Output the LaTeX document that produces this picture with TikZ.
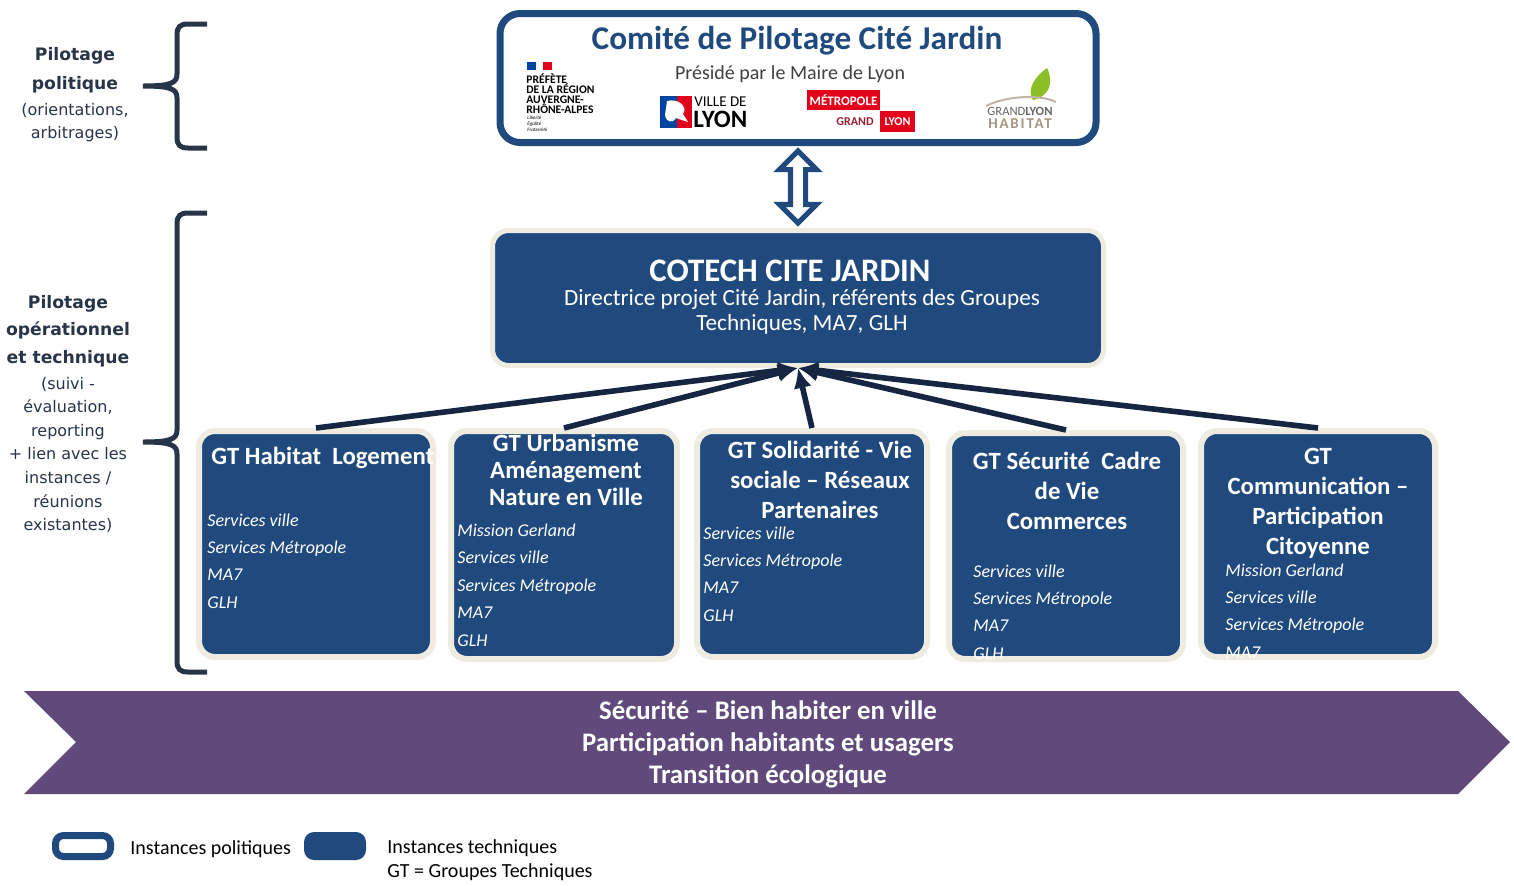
\documentclass[tikz,border=0pt]{standalone}
\usepackage{fontspec}
\setmainfont{Carlito}
\newfontfamily\verdana{DejaVu Sans}
\usepackage{tikz}
\usetikzlibrary{arrows.meta}
\usetikzlibrary{shapes.arrows}
\usetikzlibrary{calc}

\definecolor{cjblue}{RGB}{32,74,126}
\definecolor{cjbeige}{RGB}{238,236,225}
\definecolor{cjnavy}{RGB}{22,38,66}
\definecolor{cjpurple}{RGB}{96,74,123}
\definecolor{cjslate}{RGB}{40,52,72}
\definecolor{cjgrey}{RGB}{64,64,64}
\definecolor{cjred}{RGB}{226,0,26}
\definecolor{cjdarkred}{RGB}{150,30,50}
\definecolor{cjflag}{RGB}{0,70,160}
\definecolor{cjgreen}{RGB}{140,190,40}
\definecolor{cjtaupe}{RGB}{165,150,130}

\begin{document}
\begin{tikzpicture}[x=0.5pt,y=-0.5pt,
	gtbox/.style={draw=cjbeige,line width=3pt,fill=cjblue,rounded corners=8pt,minimum width=117pt,minimum height=113pt},
	gttitle/.style={text=white,font=\bfseries\fontsize{12.4}{15}\selectfont,align=center,inner sep=0pt},
	gtitems/.style={text=white,font=\itshape\fontsize{9}{13.7}\selectfont,align=left,anchor=west,inner sep=0pt},
	uplink/.style={draw=cjnavy,line width=2.8pt,-{Latex[length=10pt,width=9pt]}},
	sidetext/.style={text=cjslate,font=\verdana\fontsize{8}{11.8}\selectfont,align=center,inner sep=0pt},
	brace/.style={draw=cjslate,line width=2.5pt},
	legtext/.style={font=\fontsize{10}{12}\selectfont,align=left,anchor=west,inner sep=0pt}]
\useasboundingbox (0,0) rectangle (1514,885);

% comite de pilotage
\node[draw=cjblue,line width=3.5pt,fill=white,rounded corners=10pt,minimum width=298pt,minimum height=64.5pt] (copil) at (798,78) {};
\node[text=cjblue,font=\bfseries\fontsize{16.6}{19}\selectfont,inner sep=0pt] (copiltitle) at (797,41) {Comité de Pilotage Cité Jardin};
\node[text=cjgrey,font=\fontsize{10}{12}\selectfont,inner sep=0pt] (copilsub) at (790,74) {Présidé par le Maire de Lyon};

% logos
\fill[cjflag] (527,62) rectangle (536,70);
\fill[cjred] (543,62) rectangle (552,70);
\node[anchor=north west,font=\bfseries\fontsize{5.8}{5}\selectfont,align=left,inner sep=0pt] (prefet) at (526,73) {PRÉFÈTE\\DE LA RÉGION\\AUVERGNE-\\RHÔNE-ALPES};
\node[anchor=north west,font=\itshape\fontsize{2.5}{3}\selectfont,align=left,inner sep=0pt] (devise) at (527,116) {Liberté\\Égalité\\Fraternité};

\fill[cjflag] (660,96) rectangle (677,128);
\fill[cjred] (677,96) rectangle (692,128);
\fill[white] (667,101) .. controls (679,98) and (688,107) .. (683,114) -- (688,122) -- (676,118) .. controls (672,124) and (666,122) .. (665,115) -- cycle;
\node[anchor=west,font=\fontsize{7.5}{8}\selectfont,inner sep=0pt] (ville) at (694,102) {VILLE DE};
\node[anchor=west,font=\bfseries\fontsize{12.5}{12}\selectfont,inner sep=0pt] (lyon) at (693,119) {LYON};

\node[fill=cjred,text=white,font=\bfseries\fontsize{6.5}{7}\selectfont,minimum width=36.5pt,minimum height=10pt,inner sep=0pt] (metro) at (843.5,100) {MÉTROPOLE};
\node[text=cjdarkred,font=\bfseries\fontsize{6}{7}\selectfont,anchor=east,inner sep=0pt] (grand) at (874,121.5) {GRAND};
\node[fill=cjred,text=white,font=\bfseries\fontsize{6}{7}\selectfont,minimum width=17.5pt,minimum height=10.5pt,inner sep=0pt] (metrolyon) at (897.5,121.5) {LYON};

\fill[cjgreen] (1033,100) .. controls (1026,88) and (1036,76) .. (1047,68) .. controls (1054,82) and (1050,96) .. (1033,100);
\draw[cjtaupe!70,line width=1pt] (986,106) .. controls (1005,96) and (1040,94) .. (1056,102);
\node[text=cjgrey!80,font=\fontsize{6.3}{7}\selectfont,inner sep=0pt] (glh) at (1020,111) {GRAND\textbf{LYON}};
\node[text=cjtaupe,font=\bfseries\fontsize{7.5}{8}\selectfont\addfontfeatures{LetterSpace=12},inner sep=0pt] (habitat) at (1020,124) {HABITAT};

% cotech
\node[draw=cjbeige,line width=2.5pt,fill=cjblue,rounded corners=8pt,minimum width=305.5pt,minimum height=67.5pt] (cotech) at (798,298) {};
\node[text=white,font=\bfseries\fontsize{16.4}{17}\selectfont,inner sep=0pt] (cotechtitle) at (790,271) {COTECH CITE JARDIN};
\node[text=white,font=\fontsize{11.6}{12.4}\selectfont,align=center,inner sep=0pt] (cotechsub) at (802,312) {Directrice projet Cité Jardin, référents des Groupes\\Techniques, MA7, GLH};

% lien copil - cotech
\node[double arrow,rotate=90,draw=cjblue,line width=2.6pt,fill=white,inner sep=2.5pt,minimum height=36pt,minimum width=17pt,double arrow head extend=5.5pt] (link) at ($(copil.south)!0.5!(cotech.north)$) {};

% groupes techniques
\node[gtbox] (gt1) at (316,544) {};
\node[gtbox,minimum width=113pt,minimum height=114pt] (gt2) at (564,545) {};
\node[gtbox,minimum width=115pt] (gt3) at (812,544) {};
\node[gtbox] (gt4) at (1066,546) {};
\node[gtbox] (gt5) at (1318,544) {};

\node[gttitle,anchor=west] (gt1title) at (211,458) {GT Habitat\ \ Logement};
\node[gtitems] (gt1items) at (207,561) {Services ville\\Services Métropole\\MA7\\GLH};

\node[gttitle,font=\bfseries\fontsize{12.4}{13.6}\selectfont] (gt2title) at (566,470) {GT Urbanisme\\Aménagement\\Nature en Ville};
\node[gtitems] (gt2items) at (457,585) {Mission Gerland\\Services ville\\Services Métropole\\MA7\\GLH};

\node[gttitle] (gt3title) at (820,480) {GT Solidarité - Vie\\sociale -- Réseaux\\Partenaires};
\node[gtitems] (gt3items) at (703,574) {Services ville\\Services Métropole\\MA7\\GLH};

\node[gttitle] (gt4title) at (1067,491) {GT Sécurité\ \ Cadre\\de Vie\\Commerces};
\node[gtitems] (gt4items) at (973,612) {Services ville\\Services Métropole\\MA7\\GLH};

\node[gttitle] (gt5title) at (1318,503) {GT\\Communication --\\Participation\\Citoyenne};
\node[gtitems] (gt5items) at (1225,611) {Mission Gerland\\Services ville\\Services Métropole\\MA7};

\draw[uplink] (gt1.north) -- (cotech.south);
\draw[uplink] (gt2.north) -- (cotech.south);
\draw[uplink] (gt3.north) -- (cotech.south);
\draw[uplink] (gt4.north) -- (cotech.south);
\draw[uplink] (gt5.north) -- (cotech.south);

% bandeau transversal
\fill[cjpurple] (24,691) -- (1458,691) -- (1510,742) -- (1458,794) -- (24,794) -- (76,742) -- cycle;
\node[text=white,font=\bfseries\fontsize{13.4}{16}\selectfont,align=center,inner sep=0pt] (band) at (768,744) {Sécurité -- Bien habiter en ville\\Participation habitants et usagers\\Transition écologique};

% accolades
\draw[brace] (207,24) -- (188,24) .. controls (180,24) and (177,27) .. (177,35) -- (177,74) .. controls (177,83) and (171,86) .. (143,86) .. controls (171,86) and (177,89) .. (177,98) -- (177,137) .. controls (177,145) and (180,148) .. (188,148) -- (207,148);
\draw[brace] (207,213) -- (188,213) .. controls (180,213) and (177,216) .. (177,224) -- (177,430) .. controls (177,439) and (171,442) .. (143,442) .. controls (171,442) and (177,445) .. (177,454) -- (177,661) .. controls (177,669) and (180,672) .. (188,672) -- (207,672);

\node[sidetext] (polit) at (75,95) {\textbf{\fontsize{8.6}{10}\selectfont Pilotage}\\[2.5pt]\textbf{\fontsize{8.6}{10}\selectfont politique}\\[1pt](orientations,\\arbitrages)};
\node[sidetext] (operat) at (68,414) {\textbf{\fontsize{8.6}{10}\selectfont Pilotage}\\[2pt]\textbf{\fontsize{8.6}{10}\selectfont opérationnel}\\[2pt]\textbf{\fontsize{8.6}{10}\selectfont et technique}\\[1pt](suivi -\\évaluation,\\reporting\\+ lien avec les\\instances /\\réunions\\existantes)};

% legende
\node[draw=cjblue,line width=3.5pt,fill=white,rounded corners=4pt,minimum width=27.5pt,minimum height=10.5pt,inner sep=0pt] (legpol) at (83,846) {};
\node[legtext] (legpoltext) at (130,849) {Instances politiques};
\node[fill=cjblue,rounded corners=5pt,minimum width=31pt,minimum height=14pt,inner sep=0pt] (legtech) at (335,846) {};
\node[legtext] (legtechtext) at (387,860) {Instances techniques\\GT = Groupes Techniques};

\end{tikzpicture}
\end{document}
